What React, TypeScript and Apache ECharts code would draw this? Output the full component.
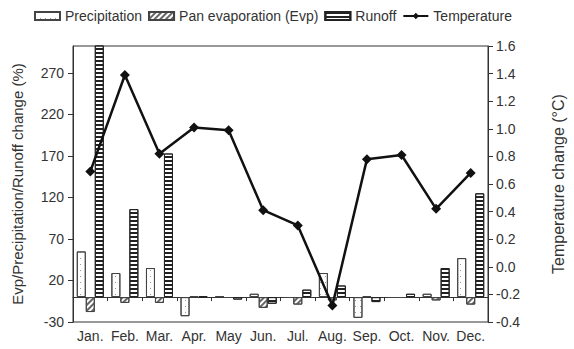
import React, { useEffect, useRef } from "react";
import * as echarts from "echarts";

const months = ["Jan.", "Feb.", "Mar.", "Apr.", "May", "Jun.", "Jul.", "Aug.", "Sep.", "Oct.", "Nov.", "Dec."];
const precipitation = [55, 29, 35, -23, 1, 4, -1, 29, -25, -1, 4, 47];
const evaporation = [-18, -7, -7, 1, -1, -13, -9, -4, 1, -1, -4, -9];
const runoff = [330, 106, 173, 1, -3, -8, 9, 14, -6, 4, 35, 125];
const temperature = [0.69, 1.39, 0.82, 1.01, 0.99, 0.41, 0.3, -0.28, 0.78, 0.81, 0.42, 0.68];

const FONT = "Liberation Sans, Arial, sans-serif";
const TXT = "#333";

export default function App() {
  const ref = useRef<HTMLDivElement>(null);
  useEffect(() => {
    if (!ref.current) return;
    const chart = echarts.init(ref.current, undefined, { renderer: "svg" });
    const barBase = {
      type: "bar",
      xAxisIndex: 0,
      yAxisIndex: 0,
      barWidth: 9,
      barGap: "0%",
    };
    chart.setOption({
      animation: false,
      backgroundColor: "#fff",
      textStyle: { fontFamily: FONT },
      legend: {
        left: 34,
        top: 9,
        padding: 0,
        itemWidth: 25,
        itemHeight: 8,
        itemGap: 6,
        textStyle: { fontSize: 14, color: TXT, fontFamily: FONT },
        data: [
          { name: "Precipitation", icon: "rect" },
          { name: "Pan evaporation (Evp)", icon: "rect" },
          { name: "Runoff", icon: "rect" },
          { name: "Temperature" },
        ],
      },
      grid: {
        left: 73,
        right: 68,
        top: 46,
        bottom: 27,
        show: true,
        borderColor: "#333",
        borderWidth: 1,
        backgroundColor: "transparent",
      },
      xAxis: [
        {
          type: "category",
          data: months,
          position: "bottom",
          axisLine: { show: false, onZero: false },
          axisTick: { show: false },
          axisLabel: { fontSize: 14, color: TXT, margin: 7, interval: 0, fontFamily: FONT },
        },
        {
          type: "category",
          data: months,
          position: "bottom",
          axisLine: { show: true, onZero: true, onZeroAxisIndex: 0, lineStyle: { color: "#333", width: 1 } },
          axisTick: { show: true, length: 4, inside: false, lineStyle: { color: "#333" } },
          axisLabel: { show: false },
        },
      ],
      yAxis: [
        {
          type: "value",
          min: -30,
          max: 302.5,
          interval: 50,
          position: "left",
          name: "Evp/Precipitation/Runoff change (%)",
          nameLocation: "middle",
          nameGap: 48,
          nameTextStyle: { fontSize: 15, color: TXT, fontFamily: FONT },
          axisLine: { show: true, lineStyle: { color: "#333" } },
          axisTick: { show: true, length: 5, lineStyle: { color: "#333" } },
          axisLabel: { fontSize: 14, color: TXT, showMaxLabel: false, margin: 9, fontFamily: FONT },
          splitLine: { show: false },
        },
        {
          type: "value",
          min: -0.4,
          max: 1.6,
          interval: 0.2,
          position: "right",
          name: "Temperature change (°C)",
          nameLocation: "middle",
          nameGap: 62,
          nameRotate: 90,
          nameTextStyle: { fontSize: 16, color: TXT, fontFamily: FONT },
          axisLine: { show: true, lineStyle: { color: "#333" } },
          axisTick: { show: true, length: 5, lineStyle: { color: "#333" } },
          axisLabel: {
            fontSize: 14,
            color: TXT,
            margin: 8,
            fontFamily: FONT,
            formatter: (v: number) => (Math.round(v * 10) / 10).toFixed(1),
          },
          splitLine: { show: false },
        },
      ],
      series: [
        {
          ...barBase,
          name: "Precipitation",
          data: precipitation,
          itemStyle: {
            color: "#fff",
            borderColor: "#444",
            borderWidth: 1,
            decal: {
              symbol: "rect",
              symbolSize: 1,
              dashArrayX: [[1, 4]],
              dashArrayY: [1, 5],
              rotation: 0,
              color: "#999",
              backgroundColor: "#fff",
            },
          },
        },
        {
          ...barBase,
          name: "Pan evaporation (Evp)",
          data: evaporation,
          itemStyle: {
            color: "#fff",
            borderColor: "#444",
            borderWidth: 1,
            decal: {
              symbol: "rect",
              symbolSize: 1,
              dashArrayX: [[1, 0]],
              dashArrayY: [1.2, 1.8],
              rotation: -Math.PI / 4,
              color: "#666",
              backgroundColor: "#ddd",
            },
          },
        },
        {
          ...barBase,
          name: "Runoff",
          data: runoff,
          itemStyle: {
            color: "#fff",
            borderColor: "#222",
            borderWidth: 1,
            decal: {
              symbol: "rect",
              symbolSize: 1,
              dashArrayX: [[1, 0]],
              dashArrayY: [1.6, 1.4],
              rotation: 0,
              color: "#222",
              backgroundColor: "#fff",
            },
          },
        },
        {
          type: "line",
          name: "Temperature",
          xAxisIndex: 0,
          yAxisIndex: 1,
          data: temperature,
          symbol: "diamond",
          symbolSize: 10,
          lineStyle: { color: "#111", width: 2.5 },
          itemStyle: { color: "#111" },
          z: 5,
        },
      ],
    });
    return () => chart.dispose();
  }, []);
  return (
    <div style={{ position: "absolute", left: 0, top: 0 }}>
      <div ref={ref} style={{ width: 574, height: 349 }} />
    </div>
  );
}
